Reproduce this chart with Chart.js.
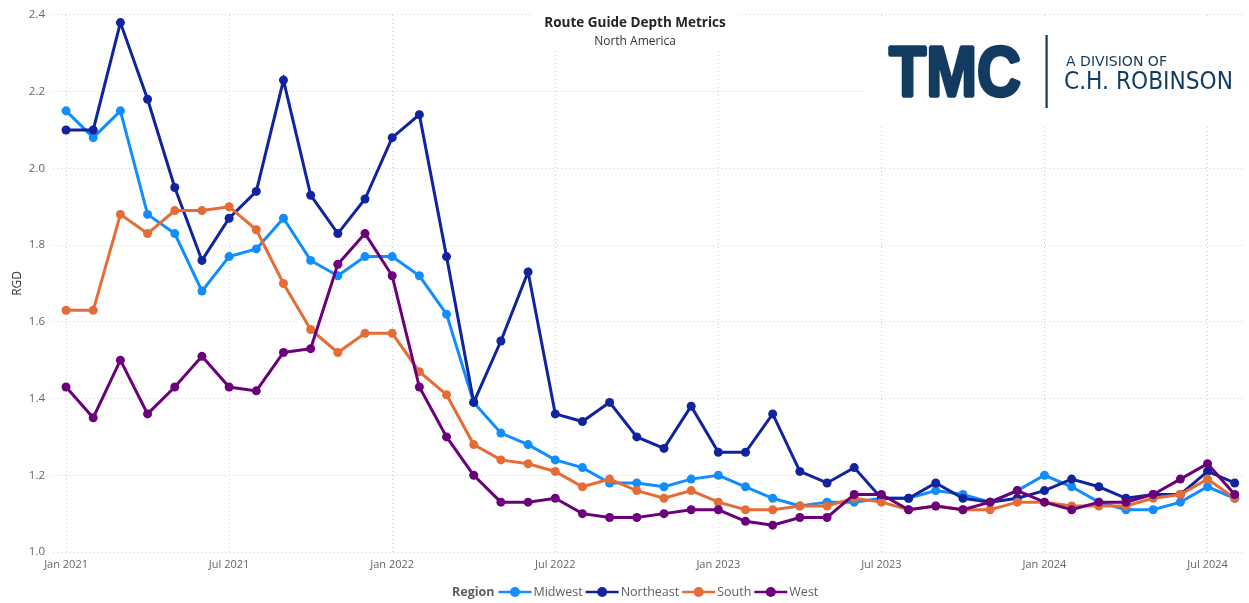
<!DOCTYPE html>
<html>
<head>
<meta charset="utf-8">
<script src="https://cdn.jsdelivr.net/npm/chart.js@4/dist/chart.umd.min.js"></script>
<style>
  html, body { margin: 0; padding: 0; background: #fff; }
  #wrap { width: 1249px; height: 603px; position: relative; }
</style>
</head>
<body>
<div id="wrap"><canvas id="chart" width="1249" height="603"></canvas></div>
<script>
const months = ['Jan 2021','Feb 2021','Mar 2021','Apr 2021','May 2021','Jun 2021','Jul 2021','Aug 2021','Sep 2021','Oct 2021','Nov 2021','Dec 2021',
  'Jan 2022','Feb 2022','Mar 2022','Apr 2022','May 2022','Jun 2022','Jul 2022','Aug 2022','Sep 2022','Oct 2022','Nov 2022','Dec 2022',
  'Jan 2023','Feb 2023','Mar 2023','Apr 2023','May 2023','Jun 2023','Jul 2023','Aug 2023','Sep 2023','Oct 2023','Nov 2023','Dec 2023',
  'Jan 2024','Feb 2024','Mar 2024','Apr 2024','May 2024','Jun 2024','Jul 2024','Aug 2024'];

const midwest   = [2.15,2.08,2.15,1.88,1.83,1.68,1.77,1.79,1.87,1.76,1.72,1.77,1.77,1.72,1.62,1.39,1.31,1.28,1.24,1.22,1.18,1.18,1.17,1.19,1.20,1.17,1.14,1.12,1.13,1.13,1.14,1.14,1.16,1.15,1.13,1.16,1.20,1.17,1.13,1.11,1.11,1.13,1.17,1.14];
const northeast = [2.10,2.10,2.38,2.18,1.95,1.76,1.87,1.94,2.23,1.93,1.83,1.92,2.08,2.14,1.77,1.39,1.55,1.73,1.36,1.34,1.39,1.30,1.27,1.38,1.26,1.26,1.36,1.21,1.18,1.22,1.14,1.14,1.18,1.14,1.13,1.14,1.16,1.19,1.17,1.14,1.15,1.15,1.21,1.18];
const south     = [1.63,1.63,1.88,1.83,1.89,1.89,1.90,1.84,1.70,1.58,1.52,1.57,1.57,1.47,1.41,1.28,1.24,1.23,1.21,1.17,1.19,1.16,1.14,1.16,1.13,1.11,1.11,1.12,1.12,1.14,1.13,1.11,1.12,1.11,1.11,1.13,1.13,1.12,1.12,1.12,1.14,1.15,1.19,1.14];
const west      = [1.43,1.35,1.50,1.36,1.43,1.51,1.43,1.42,1.52,1.53,1.75,1.83,1.72,1.43,1.30,1.20,1.13,1.13,1.14,1.10,1.09,1.09,1.10,1.11,1.11,1.08,1.07,1.09,1.09,1.15,1.15,1.11,1.12,1.11,1.13,1.16,1.13,1.11,1.13,1.13,1.15,1.19,1.23,1.15];

const yTicks = [1.0, 1.2, 1.4, 1.6, 1.8, 2.0, 2.2, 2.4];
const regions = ['Midwest', 'Northeast', 'South', 'West'];
const colors = ['#118DFF', '#12239E', '#E66C37', '#6B007B'];

const FONT = "'Open Sans', 'Segoe UI', sans-serif";
const logoColor = '#123B5F';

function toPoints(arr) {
  return arr.map((v, i) => ({ x: i, y: v }));
}

const seriesValues = [midwest, northeast, south, west];
const datasets = regions.map((name, k) => ({
  label: name,
  data: toPoints(seriesValues[k]),
  borderColor: colors[k],
  backgroundColor: colors[k],
  borderWidth: 3,
  pointRadius: 4.5,
  pointHoverRadius: 4.5,
  pointBorderWidth: 0,
  tension: 0,
  order: 3 - k
}));

// draws the text with its width forced to w (optionally thickened)
function fitText(ctx, text, x, y, w, thick) {
  const m = ctx.measureText(text).width;
  ctx.save();
  ctx.translate(x, y);
  ctx.scale(w / m, 1);
  ctx.fillText(text, 0, 0);
  if (thick) {
    ctx.lineWidth = thick;
    ctx.lineJoin = 'bevel';
    ctx.strokeStyle = ctx.fillStyle;
    ctx.strokeText(text, 0, 0);
  }
  ctx.restore();
}

const decorations = {
  id: 'decorations',
  beforeDatasetsDraw(chart) {
    const ctx = chart.ctx;
    ctx.save();
    ctx.fillStyle = '#fff';
    ctx.fillRect(530, 0, 208, 51);   // title box
    ctx.fillRect(862, 19, 387, 108); // logo box
    ctx.restore();
  },
  afterDraw(chart) {
    const ctx = chart.ctx;
    ctx.save();

    // title
    ctx.textAlign = 'center';
    ctx.textBaseline = 'middle';
    ctx.fillStyle = '#252423';
    ctx.font = `bold 13.5px ${FONT}`;
    ctx.fillText('Route Guide Depth Metrics', 635, 23);
    ctx.font = `12px ${FONT}`;
    ctx.fillStyle = '#333';
    ctx.fillText('North America', 635, 42);

    // logo
    ctx.textAlign = 'left';
    ctx.textBaseline = 'alphabetic';
    ctx.fillStyle = logoColor;
    ctx.font = `bold 71px 'Liberation Sans', Arial, sans-serif`;
    fitText(ctx, 'TMC', 889, 96, 132, 3.5);
    ctx.fillRect(1045.5, 35, 2.2, 73);
    ctx.font = `500 14px 'DejaVu Sans', sans-serif`;
    fitText(ctx, 'A DIVISION OF', 1066, 66, 101);
    ctx.font = `500 24px 'DejaVu Sans', sans-serif`;
    fitText(ctx, 'C.H. ROBINSON', 1064, 89, 169);

    // legend
    const ly = 592;
    ctx.textBaseline = 'middle';
    ctx.font = `bold 12.5px ${FONT}`;
    ctx.fillStyle = '#605E5C';
    let x = 452;
    ctx.fillText('Region', x, ly);
    x += ctx.measureText('Region').width + 4;
    ctx.font = `12.5px ${FONT}`;
    regions.forEach((name, k) => {
      ctx.strokeStyle = colors[k];
      ctx.fillStyle = colors[k];
      ctx.lineWidth = 2.5;
      ctx.beginPath();
      ctx.moveTo(x, ly);
      ctx.lineTo(x + 33, ly);
      ctx.stroke();
      ctx.beginPath();
      ctx.arc(x + 16.5, ly, 5, 0, Math.PI * 2);
      ctx.fill();
      x += 35;
      ctx.fillStyle = '#605E5C';
      ctx.fillText(name, x, ly);
      x += ctx.measureText(name).width + 3;
    });

    ctx.restore();
  }
};

new Chart(document.getElementById('chart').getContext('2d'), {
  type: 'line',
  data: { datasets },
  plugins: [decorations],
  options: {
    responsive: false,
    animation: false,
    layout: { padding: { top: 13, right: 0, bottom: 0, left: 0 } },
    plugins: {
      legend: { display: false },
      tooltip: { enabled: false }
    },
    scales: {
      x: {
        type: 'linear',
        min: -0.48,
        max: 43.36,
        afterBuildTicks: axis => {
          axis.ticks = months.map((m, i) => i).filter(i => i % 6 === 0).map(v => ({ value: v }));
        },
        afterFit: axis => { axis.height = 51; },
        border: { display: false, dash: [1, 3] },
        grid: {
          color: '#CFCFCF',
          lineWidth: 1,
          drawTicks: false
        },
        ticks: {
          padding: 6,
          maxRotation: 0,
          autoSkip: false,
          color: '#666',
          font: { family: FONT, size: 11 },
          callback: v => months[v]
        }
      },
      y: {
        min: 1.0,
        max: 2.4,
        afterBuildTicks: axis => {
          axis.ticks = yTicks.map(v => ({ value: v }));
        },
        afterFit: axis => { axis.width = 53; },
        border: { display: false, dash: [1, 3] },
        grid: {
          color: '#CFCFCF',
          lineWidth: 1,
          drawTicks: false
        },
        ticks: {
          padding: 8,
          color: '#666',
          font: { family: FONT, size: 11.5 },
          callback: v => v.toFixed(1)
        },
        title: {
          display: true,
          text: 'RGD',
          color: '#333',
          padding: { top: 10, bottom: 0 },
          font: { family: FONT, size: 12 }
        }
      }
    }
  }
});
</script>
</body>
</html>
